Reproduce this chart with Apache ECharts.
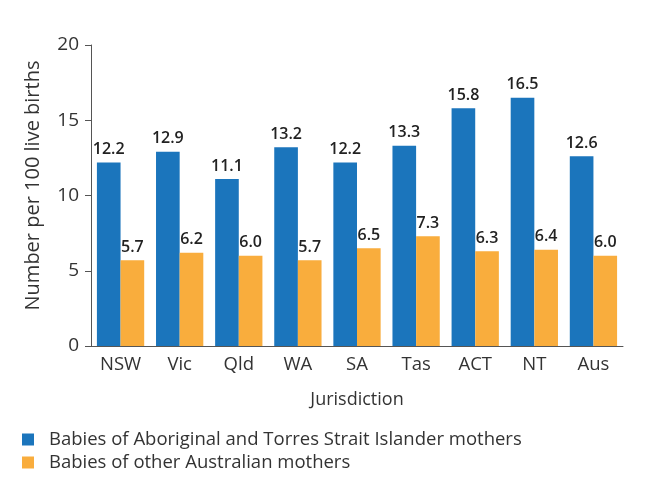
<!DOCTYPE html>
<html>
<head>
<meta charset="utf-8">
<script src="https://cdn.jsdelivr.net/npm/echarts@6/dist/echarts.min.js"></script>
<style>
  html, body { margin: 0; padding: 0; background: #fff; }
  #chart { width: 664px; height: 484px; }
</style>
</head>
<body>
<div id="chart"></div>
<script>
// jurisdictions on the x axis
var categories = ["NSW", "Vic", "Qld", "WA", "SA", "Tas", "ACT", "NT", "Aus"];
// number per 100 live births
var indigenousValues = [12.2, 12.9, 11.1, 13.2, 12.2, 13.3, 15.8, 16.5, 12.6];
var otherValues = [5.7, 6.2, 6.0, 5.7, 6.5, 7.3, 6.3, 6.4, 6.0];
var seriesNames = [
  "Babies of Aboriginal and Torres Strait Islander mothers",
  "Babies of other Australian mothers"
];

var fontName = "Open Sans";

var labelStyle = {
  show: true,
  position: "top",
  distance: 5,
  fontFamily: fontName,
  fontSize: 16,
  fontWeight: 600,
  color: "#222",
  formatter: function (p) { return p.value.toFixed(1); }
};

var option = {
  animation: false,
  textStyle: { fontFamily: fontName },
  color: ["#1b75bc", "#f9ad3d"],
  grid: { left: 91, right: 41, top: 45, bottom: 138 },
  legend: {
    orient: "vertical",
    left: 17,
    top: 425,
    itemWidth: 12,
    itemHeight: 12,
    itemGap: 4,
    icon: "rect",
    textStyle: {
      fontSize: 18.5,
      color: "#333",
      fontFamily: fontName,
      padding: [0, 0, 0, 10]
    },
    data: seriesNames
  },
  xAxis: {
    type: "category",
    data: categories,
    name: "Jurisdiction",
    nameLocation: "middle",
    nameGap: 45,
    nameTextStyle: { fontSize: 18, color: "#333" },
    axisLine: { lineStyle: { color: "#555", width: 1 } },
    axisTick: { show: false },
    axisLabel: { fontSize: 18.5, color: "#333", margin: 9 }
  },
  yAxis: {
    type: "value",
    min: 0,
    max: 20,
    interval: 5,
    name: "Number per 100 live births",
    nameLocation: "middle",
    nameGap: 48,
    nameTextStyle: { fontSize: 20, color: "#333", padding: [0, 0, 0, 20] },
    axisLine: { show: true, lineStyle: { color: "#555", width: 1 } },
    axisTick: { show: true, length: 6, lineStyle: { color: "#555" } },
    axisLabel: { fontSize: 19, color: "#333", margin: 12 },
    splitLine: { show: false }
  },
  series: [
    {
      name: seriesNames[0],
      type: "bar",
      data: indigenousValues,
      barGap: "0%",
      barCategoryGap: "20%",
      label: labelStyle
    },
    {
      name: seriesNames[1],
      type: "bar",
      data: otherValues,
      barGap: "0%",
      barCategoryGap: "20%",
      label: labelStyle
    }
  ]
};

var myChart = echarts.init(document.getElementById("chart"));
myChart.setOption(option);
</script>
</body>
</html>
